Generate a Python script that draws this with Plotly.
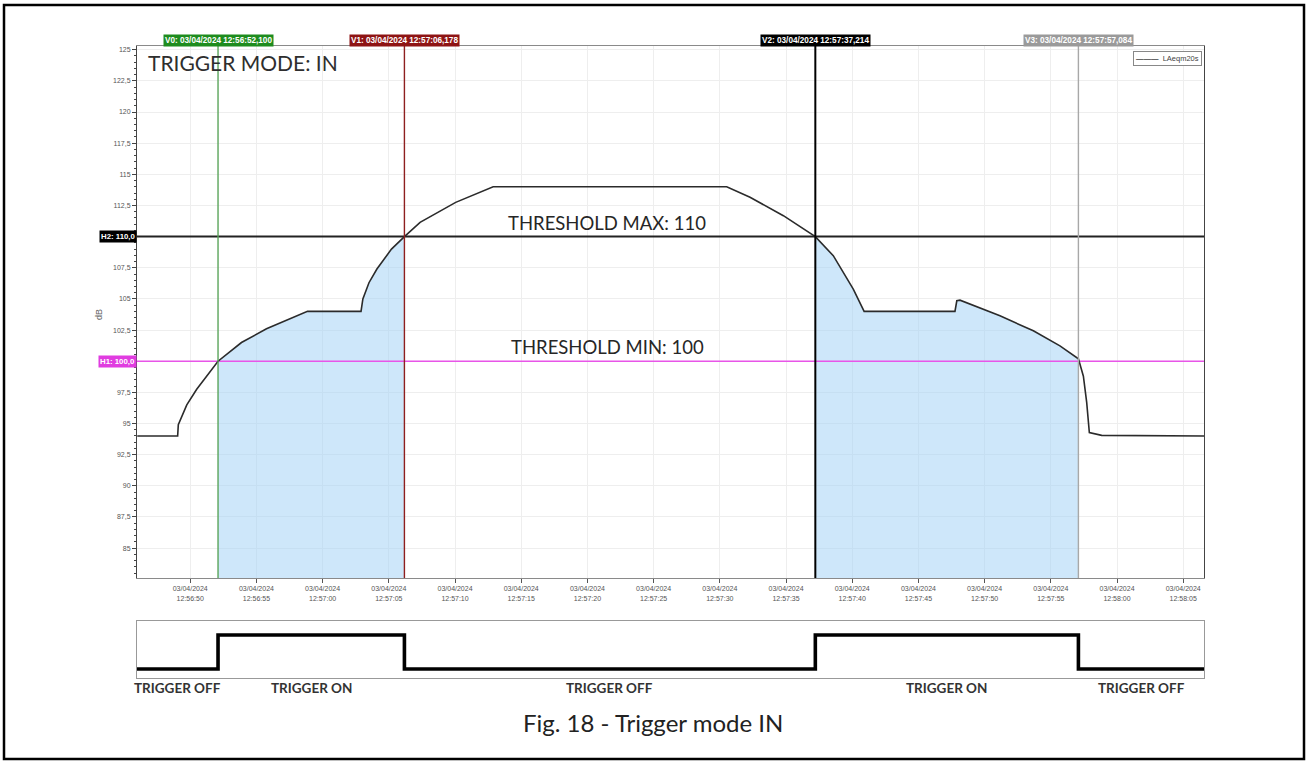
import plotly.graph_objects as go
import pandas as pd

# ---------------- data ----------------
DATE = "2024-04-03"
curve_time = [
    "12:56:46.00", "12:56:49.05", "12:56:49.10", "12:56:49.74", "12:56:50.49",
    "12:56:52.10", "12:56:53.87", "12:56:55.76", "12:56:58.86", "12:57:02.90",
    "12:57:03.04", "12:57:03.50", "12:57:04.10", "12:57:05.20", "12:57:06.178",
    "12:57:07.36", "12:57:10.05", "12:57:12.88", "12:57:30.52", "12:57:32.28",
    "12:57:34.80", "12:57:37.214", "12:57:38.57", "12:57:40.08", "12:57:40.90",
    "12:57:47.76", "12:57:47.90", "12:57:48.14", "12:57:51.16", "12:57:53.68",
    "12:57:55.69", "12:57:57.084", "12:57:57.46", "12:57:57.71", "12:57:57.91",
    "12:57:58.84", "12:58:06.60",
]
curve_db = [
    94.0, 94.0, 94.9, 96.5, 97.75,
    100.0, 101.5, 102.6, 104.0, 104.0,
    105.0, 106.3, 107.4, 109.0, 110.0,
    111.15, 112.75, 114.0, 114.0, 113.16,
    111.68, 110.0, 108.47, 105.79, 104.0,
    104.0, 104.85, 104.9, 103.64, 102.44,
    101.23, 100.2, 98.8, 96.7, 94.27,
    94.05, 94.0,
]
series_name = "LAeqm20s"

cursor_names = ["V0", "V1", "V2", "V3"]
cursor_time = ["12:56:52.100", "12:57:06.178", "12:57:37.214", "12:57:57.084"]
cursor_label = ["03/04/2024 12:56:52,100", "03/04/2024 12:57:06,178",
                "03/04/2024 12:57:37,214", "03/04/2024 12:57:57,084"]
cursor_color = ["#5aa55a", "#8e1f1f", "#000000", "#a8a8a8"]
cursor_bg = ["#1e8c1e", "#8e1414", "#000000", "#9a9a9a"]

h_names = ["H2", "H1"]
h_values = [110.0, 100.0]
h_labels = ["110,0", "100,0"]
h_color = ["#222222", "#e855e8"]
h_bg = ["#000000", "#e03ce0"]
threshold_text = ["THRESHOLD MAX: 110", "THRESHOLD MIN: 100"]

y_ticks = [85, 87.5, 90, 92.5, 95, 97.5, 100, 102.5, 105, 107.5, 110, 112.5,
           115, 117.5, 120, 122.5, 125]
x_start, x_end = "12:56:45.98", "12:58:06.57"

trigger_time = [x_start, cursor_time[0], cursor_time[1], cursor_time[2], cursor_time[3], x_end]
trigger_state = [0, 1, 0, 1, 0, 0]
trigger_text = ["TRIGGER OFF", "TRIGGER ON", "TRIGGER OFF", "TRIGGER ON", "TRIGGER OFF"]

# ---------------- helpers ----------------
W, H = 1306, 763
def px(x): return x / W
def py(y): return 1 - y / H

def ts(t): return pd.Timestamp(f"{DATE} {t}")

t_curve = [ts(t) for t in curve_time]
t_cur = [ts(t) for t in cursor_time]

fig = go.Figure()

# filled regions between V0-V1 and V2-V3
for a, b in [(0, 1), (2, 3)]:
    xs = [t for t in t_curve if t_cur[a] <= t <= t_cur[b]]
    ys = [v for t, v in zip(t_curve, curve_db) if t_cur[a] <= t <= t_cur[b]]
    fig.add_trace(go.Scatter(x=xs, y=ys, mode="lines", line=dict(width=0),
                             fill="tozeroy", fillcolor="rgba(165,212,245,0.55)",
                             showlegend=False, hoverinfo="skip"))

# threshold lines
for v, c in zip(h_values, h_color):
    fig.add_trace(go.Scatter(x=[ts(x_start), ts(x_end)], y=[v, v], mode="lines",
                             line=dict(color=c, width=2 if c != "#e855e8" else 1.6),
                             showlegend=False, hoverinfo="skip"))

# main curve
fig.add_trace(go.Scatter(x=t_curve, y=curve_db, mode="lines", name=series_name,
                         line=dict(color="#2b2b2b", width=1.6), showlegend=False))

# cursor lines
for t, c in zip(t_cur, cursor_color):
    fig.add_shape(type="line", xref="x", yref="y domain", x0=t, x1=t, y0=0, y1=1,
                  line=dict(color=c, width=2 if c == "#000000" else 1.4))

# trigger step
fig.add_trace(go.Scatter(x=[ts(t) for t in trigger_time], y=trigger_state,
                         mode="lines", line=dict(color="black", width=3.6, shape="hv"),
                         xaxis="x2", yaxis="y2", showlegend=False, hoverinfo="skip"))

annotations = []
# cursor labels
for n, t, lab, bg in zip(cursor_names, t_cur, cursor_label, cursor_bg):
    annotations.append(dict(x=t, xref="x", y=py(41), yref="paper", yanchor="middle",
                            text=f"<b>{n}: {lab}</b>", showarrow=False, bgcolor=bg,
                            font=dict(family="Liberation Sans", size=8.2, color="white"),
                            borderpad=1))
# horizontal labels
for n, v, lab, bg in zip(h_names, h_values, h_labels, h_bg):
    annotations.append(dict(x=px(137), xref="paper", xanchor="right", y=v, yref="y",
                            yanchor="middle",
                            text=f"<b>{n}: {lab}</b>", showarrow=False, bgcolor=bg,
                            font=dict(family="Liberation Sans", size=7.8, color="white"),
                            borderpad=1))
# threshold texts
for v, txt in zip(h_values, threshold_text):
    annotations.append(dict(x=px(607), xref="paper", y=v, yref="y", yshift=14,
                            yanchor="middle", text=txt, showarrow=False,
                            font=dict(family="Lato", size=18.5, color="#262626")))
annotations.append(dict(x=px(146), xref="paper", xanchor="left", y=py(62), yref="paper",
                        yanchor="middle", text="TRIGGER MODE: IN", showarrow=False,
                        font=dict(family="Lato", size=21, color="#2e2e2e")))
annotations.append(dict(x=px(92), xref="paper", y=py(315), yref="paper", text="dB",
                        yanchor="middle", textangle=-90, showarrow=False,
                        font=dict(family="Liberation Sans", size=9, color="#666")))
# legend box
annotations.append(dict(x=px(1202), xref="paper", xanchor="right", y=py(58), yref="paper",
                        yanchor="middle", text=f"<b>———</b>  {series_name}", showarrow=False,
                        bordercolor="#888", borderwidth=1, borderpad=2, bgcolor="white",
                        font=dict(family="Liberation Sans", size=7.5, color="#444")))
# trigger labels at segment midpoints
tt = [ts(t) for t in trigger_time]
for i, txt in enumerate(trigger_text):
    mid = tt[i] + (tt[i + 1] - tt[i]) / 2
    annotations.append(dict(x=mid, xref="x2", y=py(688), yref="paper", yanchor="middle",
                            text=txt, showarrow=False,
                            font=dict(family="Lato", size=13.5, color="#333",
                                      weight="bold")))
annotations.append(dict(x=px(653), xref="paper", y=py(722), yref="paper", yanchor="middle",
                        text="Fig. 18 - Trigger mode IN", showarrow=False,
                        font=dict(family="Lato", size=24, color="#222")))

# outer border
fig.add_shape(type="rect", xref="paper", yref="paper", x0=px(4), x1=px(1304),
              y0=py(759), y1=py(5), line=dict(color="black", width=2.5))

xr = [ts(x_start), ts(x_end)]
ytext = ["" if v in h_values else f"{v:g}".replace(".", ",") for v in y_ticks]
fig.update_layout(
    width=W, height=H, margin=dict(l=0, r=0, t=0, b=0),
    paper_bgcolor="white", plot_bgcolor="white",
    annotations=annotations, showlegend=False,
    xaxis=dict(domain=[px(137), px(1204)], range=xr, type="date",
               tick0=ts("12:56:50"), dtick=5000,
               tickformat="%d/%m/%Y<br>%H:%M:%S", ticks="outside", ticklen=4,
               tickcolor="#555", tickfont=dict(family="Liberation Sans", size=7, color="#555"),
               showgrid=True, gridcolor="#eeeeee", showline=True, linecolor="#8a8a8a",
               mirror=True, zeroline=False, anchor="y"),
    yaxis=dict(domain=[py(578), py(46)], range=[82.6, 125.3],
               tickvals=y_ticks, ticktext=ytext,
               ticks="outside", ticklen=4, tickcolor="#444",
               tickfont=dict(family="Liberation Sans", size=7, color="#555"),
               minor=dict(ticks="outside", ticklen=2, dtick=0.5, tickcolor="#444",
                          showgrid=False),
               showgrid=True, gridcolor="#eeeeee", showline=True, linecolor="#444",
               mirror=True, zeroline=False, anchor="x"),
    xaxis2=dict(domain=[px(137), px(1204)], range=xr, type="date", showticklabels=False,
                ticks="", showgrid=False, showline=True, linecolor="#999", mirror=True,
                zeroline=False, anchor="y2"),
    yaxis2=dict(domain=[py(678), py(621)], range=[-0.265, 1.413], showticklabels=False,
                ticks="", showgrid=False, showline=True, linecolor="#999", mirror=True,
                zeroline=False, anchor="x2"),
)

fig.write_html("out.html", config={"displayModeBar": False},
               post_script="document.body.style.margin='0';document.body.style.overflow='hidden';")
